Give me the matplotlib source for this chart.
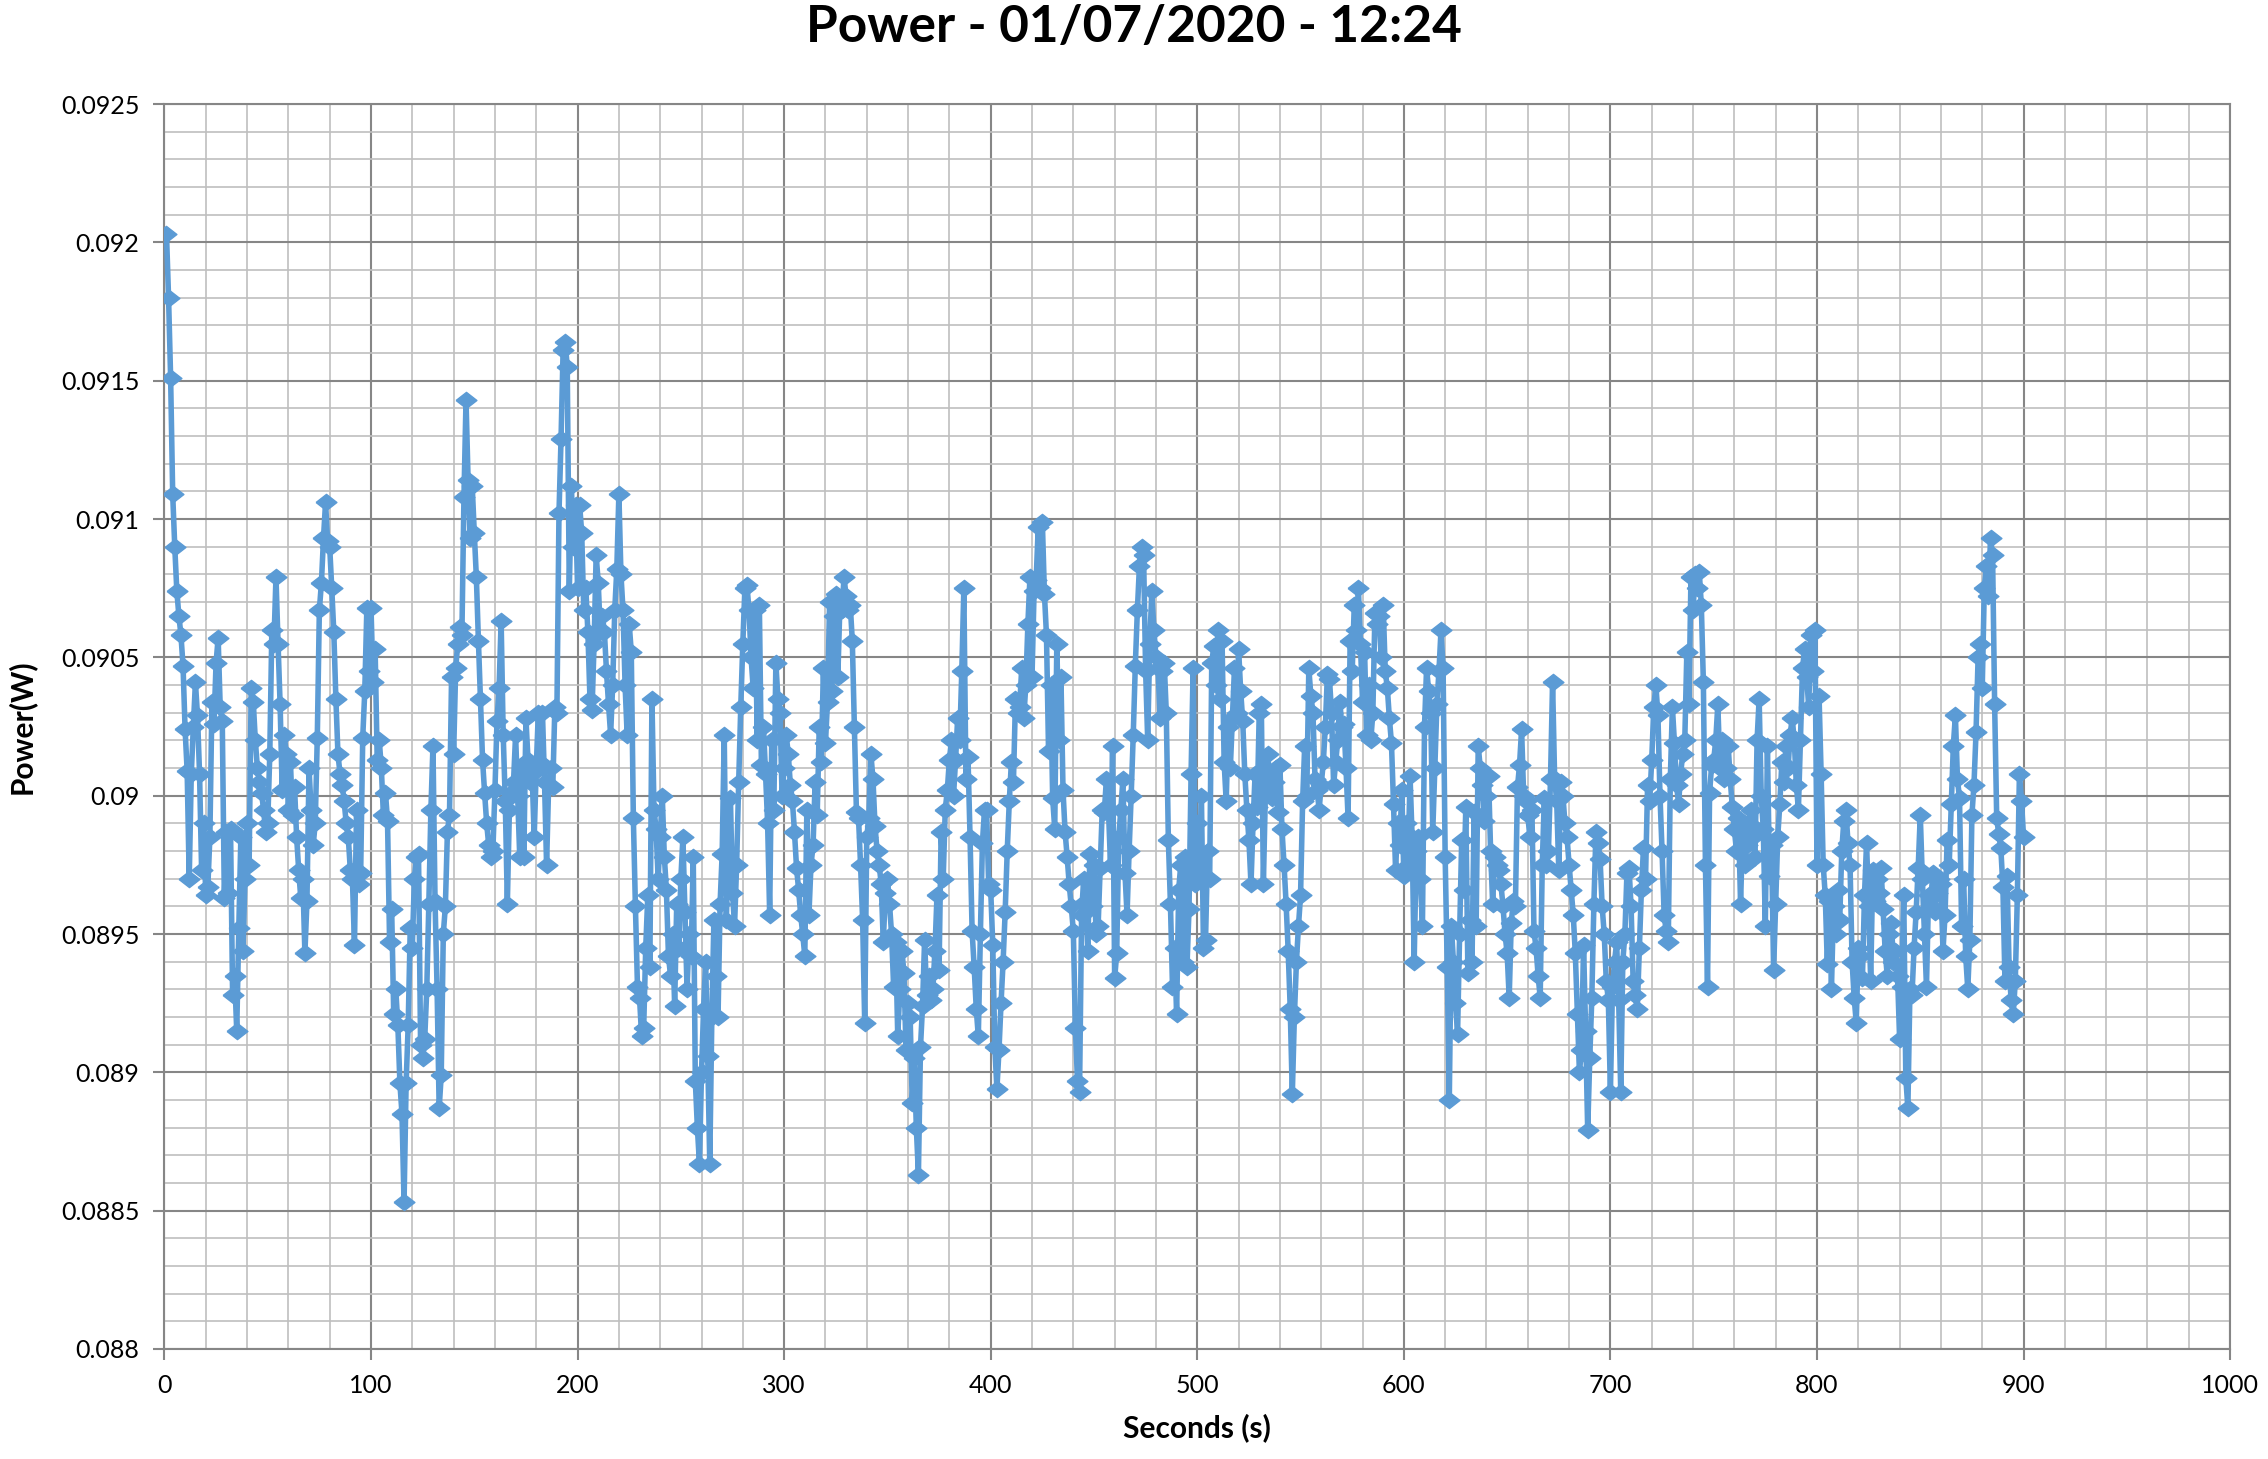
import matplotlib
matplotlib.use("Agg")
import matplotlib.pyplot as plt
from matplotlib.ticker import MultipleLocator, FuncFormatter

plt.rcParams['font.family'] = ['Lato', 'DejaVu Sans']

# Power readings in mW, one per second (1 s .. 900 s), split by 100 s blocks
power_0_100 = [
    92.03, 91.80, 91.51, 91.09, 90.90, 90.74, 90.65, 90.58, 90.47, 90.24,
    90.09, 89.70, 90.08, 90.25, 90.41, 90.29, 90.08, 89.73, 89.90, 89.64,
    89.67, 89.85, 90.34, 90.26, 90.48, 90.57, 90.32, 90.27, 89.63, 89.87,
    89.65, 89.88, 89.28, 89.35, 89.15, 89.52, 89.85, 89.44, 89.70, 89.90,
    89.75, 90.39, 90.34, 90.20, 90.10, 90.05, 90.01, 89.95, 89.87, 89.90,
    90.15, 90.60, 90.55, 90.79, 90.55, 90.33, 90.02, 90.22, 90.15, 89.95,
    90.12, 89.93, 90.03, 89.85, 89.73, 89.63, 89.70, 89.43, 89.62, 90.10,
    89.95, 89.82, 89.90, 90.21, 90.67, 90.77, 90.93, 91.06, 90.92, 90.90,
    90.75, 90.59, 90.35, 90.15, 90.08, 90.04, 89.98, 89.90, 89.85, 89.73,
    89.70, 89.46, 89.95, 89.68, 89.72, 90.21, 90.38, 90.68, 90.45, 90.68]
power_100_200 = [
    90.41, 90.53, 90.13, 90.20, 90.10, 89.93, 90.01, 89.91, 89.47, 89.59,
    89.21, 89.30, 89.17, 88.96, 88.85, 88.53, 88.96, 89.17, 89.52, 89.45,
    89.70, 89.78, 89.79, 89.10, 89.05, 89.12, 89.30, 89.61, 89.95, 90.18,
    89.62, 89.30, 88.87, 88.99, 89.50, 89.60, 89.87, 89.93, 90.43, 90.15,
    90.46, 90.55, 90.61, 90.58, 91.08, 91.43, 91.14, 90.93, 91.12, 90.95,
    90.79, 90.56, 90.35, 90.13, 90.01, 89.90, 89.82, 89.78, 89.80, 90.02,
    90.27, 90.39, 90.63, 90.22, 89.98, 89.61, 89.95, 90.01, 90.05, 90.22,
    90.00, 89.78, 90.10, 89.78, 90.28, 90.13, 90.05, 90.08, 89.85, 90.10,
    90.30, 90.12, 90.30, 90.05, 89.75, 90.04, 90.10, 90.03, 90.32, 90.30,
    91.02, 91.29, 91.61, 91.64, 91.55, 90.74, 91.12, 90.90, 91.05, 90.75]
power_200_300 = [
    91.05, 90.95, 90.67, 90.75, 90.59, 90.35, 90.31, 90.55, 90.87, 90.77,
    90.59, 90.65, 90.59, 90.45, 90.33, 90.22, 90.40, 90.67, 90.82, 91.09,
    90.80, 90.67, 90.40, 90.22, 90.62, 90.52, 89.92, 89.60, 89.31, 89.27,
    89.13, 89.16, 89.45, 89.64, 89.38, 90.35, 89.95, 89.88, 89.70, 89.85,
    90.00, 89.78, 89.66, 89.42, 89.35, 89.50, 89.24, 89.61, 89.45, 89.70,
    89.85, 89.58, 89.30, 89.50, 89.42, 89.78, 88.97, 88.80, 88.67, 89.00,
    89.23, 89.40, 89.06, 88.67, 89.20, 89.55, 89.35, 89.20, 89.61, 89.79,
    90.22, 89.55, 89.80, 89.99, 89.65, 89.53, 89.75, 90.05, 90.32, 90.55,
    90.75, 90.76, 90.67, 90.50, 90.39, 90.67, 90.20, 90.69, 90.11, 90.25,
    90.08, 89.90, 89.57, 90.20, 89.95, 90.48, 90.35, 90.30, 90.00, 90.10]
power_300_400 = [
    90.22, 90.15, 90.04, 89.98, 89.87, 89.74, 89.66, 89.57, 89.50, 89.42,
    89.95, 89.57, 89.75, 89.82, 90.05, 89.93, 90.25, 90.12, 90.46, 90.19,
    90.34, 90.70, 90.38, 90.65, 90.73, 90.43, 90.69, 90.67, 90.79, 90.72,
    90.67, 90.69, 90.56, 90.25, 89.94, 89.92, 89.75, 89.55, 89.18, 89.85,
    89.92, 90.15, 90.06, 89.89, 89.80, 89.75, 89.68, 89.47, 89.65, 89.70,
    89.61, 89.50, 89.31, 89.47, 89.13, 89.30, 89.44, 89.36, 89.08, 89.25,
    89.20, 88.89, 89.05, 88.80, 88.63, 89.09, 89.24, 89.48, 89.28, 89.35,
    89.26, 89.30, 89.44, 89.64, 89.37, 89.87, 89.70, 89.95, 90.02, 90.13,
    90.20, 90.00, 90.13, 90.28, 90.20, 90.45, 90.75, 90.06, 90.14, 89.85,
    89.51, 89.38, 89.23, 89.13, 89.50, 89.83, 89.95, 89.95, 89.68, 89.66]
power_400_500 = [
    89.46, 89.09, 88.94, 89.08, 89.25, 89.40, 89.58, 89.80, 89.98, 90.12,
    90.05, 90.35, 90.30, 90.32, 90.46, 90.28, 90.40, 90.62, 90.79, 90.43,
    90.74, 90.78, 90.97, 90.75, 90.99, 90.73, 90.58, 90.16, 90.40, 89.99,
    89.88, 90.55, 90.20, 90.43, 90.02, 89.87, 89.78, 89.68, 89.60, 89.51,
    89.16, 88.97, 88.93, 89.57, 89.70, 89.62, 89.44, 89.79, 89.60, 89.75,
    89.50, 89.53, 89.74, 89.95, 89.94, 90.06, 89.95, 89.75, 90.18, 89.34,
    89.43, 89.85, 89.95, 90.06, 89.72, 89.57, 89.80, 90.00, 90.22, 90.47,
    90.67, 90.83, 90.90, 90.87, 90.45, 90.20, 90.55, 90.74, 90.60, 90.50,
    90.46, 90.28, 90.45, 90.48, 90.30, 89.84, 89.61, 89.31, 89.45, 89.21,
    89.66, 89.75, 89.40, 89.78, 89.38, 89.59, 90.08, 90.46, 89.68, 89.90]
power_500_600 = [
    89.70, 90.00, 89.45, 89.48, 89.80, 89.70, 90.48, 90.54, 90.40, 90.60,
    90.35, 90.56, 90.12, 89.98, 90.25, 90.10, 90.28, 90.46, 90.30, 90.53,
    90.38, 90.27, 90.08, 89.95, 89.84, 89.68, 89.90, 90.08, 89.96, 90.30,
    90.33, 89.68, 90.02, 90.15, 90.08, 89.99, 90.05, 90.10, 89.94, 90.11,
    89.88, 89.75, 89.61, 89.44, 89.23, 88.92, 89.20, 89.40, 89.53, 89.64,
    89.98, 90.18, 90.00, 90.46, 90.36, 90.30, 90.06, 90.02, 89.95, 90.04,
    90.12, 90.25, 90.44, 90.42, 90.30, 90.04, 90.12, 90.20, 90.34, 90.25,
    90.26, 90.10, 89.92, 90.56, 90.45, 90.69, 90.60, 90.75, 90.55, 90.34,
    90.52, 90.22, 90.40, 90.20, 90.30, 90.66, 90.62, 90.65, 90.50, 90.69,
    90.45, 90.39, 90.28, 90.19, 89.97, 89.73, 89.90, 89.82, 90.02, 89.71]
power_600_700 = [
    89.90, 89.75, 90.07, 89.85, 89.40, 89.80, 89.85, 89.70, 89.53, 90.25,
    90.46, 90.38, 90.30, 89.87, 90.10, 90.33, 90.45, 90.60, 90.46, 89.78,
    89.38, 88.90, 89.53, 89.40, 89.25, 89.14, 89.50, 89.84, 89.66, 89.96,
    89.36, 89.55, 89.40, 89.94, 89.53, 90.18, 90.10, 90.04, 89.91, 90.00,
    90.07, 89.80, 89.61, 89.78, 89.75, 89.73, 89.68, 89.60, 89.50, 89.43,
    89.27, 89.54, 89.62, 89.60, 90.03, 90.11, 90.24, 90.00, 89.98, 89.93,
    89.85, 89.95, 89.51, 89.45, 89.35, 89.27, 89.75, 89.99, 89.75, 89.80,
    90.06, 90.41, 90.06, 89.98, 89.73, 90.05, 90.00, 89.90, 89.85, 89.75,
    89.66, 89.57, 89.43, 89.21, 89.00, 89.08, 89.46, 89.15, 88.79, 89.05,
    89.27, 89.61, 89.87, 89.83, 89.77, 89.60, 89.50, 89.33, 89.26, 88.93]
power_700_800 = [
    89.31, 89.40, 89.47, 89.26, 88.93, 89.40, 89.50, 89.72, 89.74, 89.60,
    89.33, 89.28, 89.23, 89.45, 89.66, 89.81, 89.70, 90.04, 89.98, 90.13,
    90.32, 90.40, 90.29, 90.00, 89.80, 89.57, 89.51, 89.47, 90.06, 90.32,
    90.19, 90.04, 89.97, 90.08, 90.15, 90.20, 90.52, 90.33, 90.79, 90.67,
    90.80, 90.75, 90.81, 90.69, 90.41, 89.75, 89.31, 90.01, 90.11, 90.13,
    90.20, 90.33, 90.10, 90.20, 90.06, 90.10, 90.18, 90.06, 89.96, 89.88,
    89.80, 89.92, 89.61, 89.87, 89.75, 89.82, 89.90, 89.95, 89.85, 89.78,
    90.20, 90.35, 90.00, 89.88, 89.53, 90.18, 89.71, 89.82, 89.37, 89.61,
    89.85, 89.97, 90.12, 90.05, 90.18, 90.10, 90.22, 90.28, 90.20, 90.04,
    89.95, 90.20, 90.46, 90.53, 90.43, 90.32, 90.58, 90.45, 90.60, 89.75]
power_800_900 = [
    90.36, 90.08, 89.75, 89.64, 89.39, 89.62, 89.30, 89.60, 89.50, 89.66,
    89.55, 89.80, 89.91, 89.95, 89.83, 89.75, 89.40, 89.27, 89.18, 89.45,
    89.42, 89.34, 89.64, 89.83, 89.60, 89.33, 89.73, 89.62, 89.70, 89.65,
    89.74, 89.59, 89.44, 89.35, 89.50, 89.54, 89.40, 89.44, 89.35, 89.12,
    89.31, 89.64, 88.98, 88.87, 89.30, 89.28, 89.45, 89.58, 89.74, 89.93,
    89.70, 89.50, 89.31, 89.64, 89.60, 89.72, 89.58, 89.65, 89.70, 89.68,
    89.44, 89.57, 89.84, 89.75, 89.97, 90.18, 90.29, 90.06, 89.99, 89.53,
    89.70, 89.42, 89.30, 89.48, 89.93, 90.04, 90.23, 90.50, 90.55, 90.39,
    90.75, 90.83, 90.72, 90.93, 90.87, 90.33, 89.92, 89.86, 89.81, 89.67,
    89.33, 89.71, 89.38, 89.26, 89.21, 89.33, 89.64, 90.08, 89.98, 89.85]

power_mw = (power_0_100 + power_100_200 + power_200_300 + power_300_400 +
            power_400_500 + power_500_600 + power_600_700 + power_700_800 +
            power_800_900)
seconds = list(range(1, len(power_mw) + 1))
power_w = [p / 1000.0 for p in power_mw]

line_color = '#5B9BD5'
major_grid = '#868686'
minor_grid = '#BFBFBF'

fig = plt.figure(figsize=(22.68, 14.59), dpi=100)
ax = fig.add_axes([0.0725, 0.0754, 0.9108, 0.8533])

# flattened Excel-style diamond
diamond = [(-1, 0), (0, 0.78), (1, 0), (0, -0.78), (-1, 0)]
ax.plot(seconds, power_w, color=line_color, linewidth=4.0,
        marker=diamond, markersize=15, markerfacecolor=line_color,
        markeredgecolor=line_color, zorder=3)

ax.set_xlim(0, 1000)
ax.set_ylim(0.088, 0.0925)
ax.xaxis.set_major_locator(MultipleLocator(100))
ax.xaxis.set_minor_locator(MultipleLocator(20))
ax.yaxis.set_major_locator(MultipleLocator(0.0005))
ax.yaxis.set_minor_locator(MultipleLocator(0.0001))
ax.yaxis.set_major_formatter(FuncFormatter(lambda v, pos: '%g' % round(v, 5)))

ax.grid(which='major', color=major_grid, linewidth=1.5, zorder=1)
ax.grid(which='minor', color=minor_grid, linewidth=1.2, zorder=0)
ax.set_axisbelow(True)
for side in ['top', 'right', 'bottom', 'left']:
    ax.spines[side].set_color(major_grid)
    ax.spines[side].set_linewidth(1.5)

ax.tick_params(which='major', length=8, width=1.5, color=major_grid,
               labelsize=18, pad=10)
ax.tick_params(which='minor', length=0)

# title is centred on the whole figure, like Excel does
fig.text(0.5, 0.981, 'Power - 01/07/2020 - 12:24', fontsize=37,
         fontweight='bold', ha='center', va='center')
ax.set_xlabel('Seconds (s)', fontsize=21.5, fontweight='bold', labelpad=12)
ax.set_ylabel('Power(W)', fontsize=21.5, fontweight='bold', labelpad=18)

fig.savefig('out.png', dpi=100, facecolor='white')
